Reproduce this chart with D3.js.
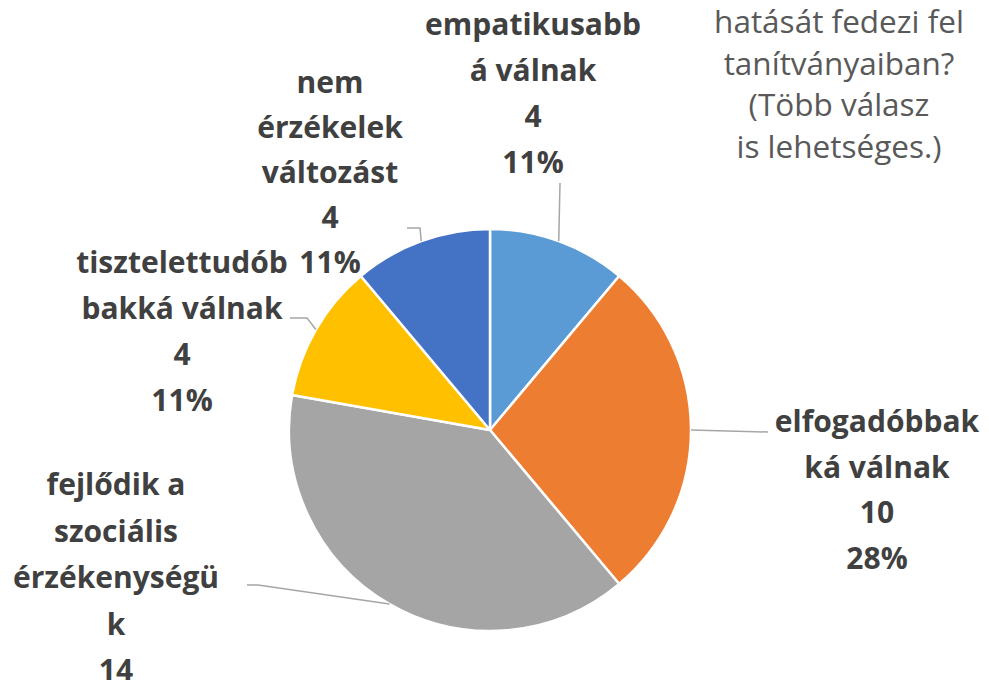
<!DOCTYPE html>
<html><head><meta charset="utf-8">
<script src="https://cdn.jsdelivr.net/npm/d3@7"></script>
<style>html,body{margin:0;padding:0;background:#fff;}svg{display:block;}</style>
</head><body>
<svg id="chart" width="989" height="680"></svg>
<script>
// ---- data ----
const categories = ["empatikusabbá válnak","elfogadóbbakká válnak","fejlődik a szociális érzékenységük","tisztelettudóbbakká válnak","nem érzékelek változást"];
const labelLines = [["empatikusabb","á válnak"],["elfogadóbbak","ká válnak"],["fejlődik a","szociális","érzékenységü","k"],["tisztelettudób","bakká válnak"],["nem","érzékelek","változást"]];
const values = [4,10,14,4,4];
const colors = ["#5B9BD5","#ED7D31","#A5A5A5","#FFC000","#4472C4"];
const titleLines = ["hatását fedezi fel","tanítványaiban?","(Több válasz","is lehetséges.)"];

// ---- layout ----
const W=989,H=680, cx=490, cy=430, R=201;
const labelPos = [ // centre x, first baseline, line height, leader elbow points
  {x:533,y:35,lh:46, leader:[[560,183]]},
  {x:877,y:432,lh:45.5, leader:[[768,432]]},
  {x:116,y:495,lh:46.5, leader:[[258,585],[247,585]]},
  {x:182,y:273,lh:46, leader:[[307,318],[290,318]]},
  {x:330,y:93,lh:45, leader:[[420,228],[407,228]]}
];

const svg=d3.select("#chart");
svg.append("rect").attr("width",W).attr("height",H).attr("fill","#fff");
const total=d3.sum(values);
const pct=d3.format(".0%");
const pie=d3.pie().sort(null).value(d=>d)(values);
const arc=d3.arc().innerRadius(0).outerRadius(R);
const g=svg.append("g").attr("transform",`translate(${cx},${cy})`);
g.selectAll("path").data(pie).join("path")
  .attr("d",arc).attr("fill",(d,i)=>colors[i])
  .attr("stroke","#fff").attr("stroke-width",2.5).attr("stroke-linejoin","round");

// leader lines
pie.forEach((d,i)=>{
  const a=(d.startAngle+d.endAngle)/2;
  const p0=[cx+R*Math.sin(a), cy-R*Math.cos(a)];
  const pts=[p0].concat(labelPos[i].leader);
  svg.append("path").attr("d",d3.line()(pts)).attr("fill","none")
    .attr("stroke","#A6A6A6").attr("stroke-width",1.5);
});

// labels
pie.forEach((d,i)=>{
  const lp=labelPos[i];
  const lines=labelLines[i].concat([String(values[i]), pct(values[i]/total)]);
  const t=svg.append("text").attr("text-anchor","middle")
    .attr("font-family","'Open Sans', Lato, sans-serif").attr("font-weight","bold")
    .attr("font-size",30).attr("fill","#404040");
  lines.forEach((s,j)=>t.append("tspan").attr("x",lp.x).attr("y",lp.y+j*lp.lh).text(s));
});

// title (partially visible)
const tt=svg.append("text").attr("text-anchor","middle")
  .attr("font-family","'Open Sans', Lato, sans-serif").attr("font-size",31.5).attr("fill","#595959");
titleLines.forEach((s,j)=>tt.append("tspan").attr("x",839).attr("y",33+j*41.5).text(s));
</script>
</body></html>
